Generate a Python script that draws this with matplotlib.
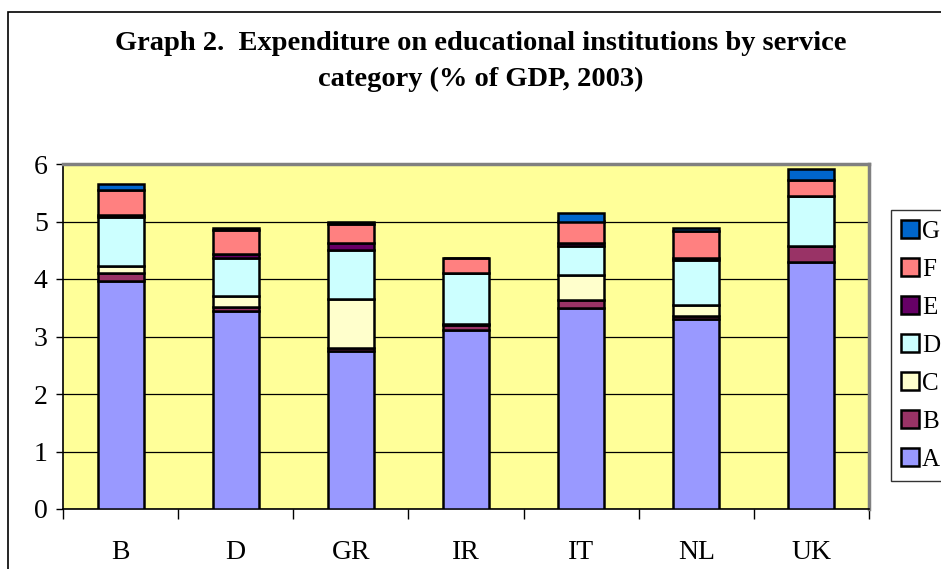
import numpy as np
import matplotlib
matplotlib.use("Agg")
from matplotlib import pyplot as plt
from matplotlib.patches import Rectangle, Patch

countries = ["B", "D", "GR", "IR", "IT", "NL", "UK"]
series = ["A", "B", "C", "D", "E", "F", "G"]

# values, % of GDP
A = [3.96, 3.44, 2.75, 3.12, 3.50, 3.30, 4.30]
B = [0.15, 0.08, 0.05, 0.08, 0.13, 0.05, 0.27]
C = [0.11, 0.19, 0.86, 0.01, 0.44, 0.19, 0.00]
D = [0.86, 0.66, 0.85, 0.89, 0.50, 0.79, 0.88]
E = [0.04, 0.07, 0.12, 0.00, 0.05, 0.03, 0.00]
F = [0.43, 0.42, 0.33, 0.26, 0.38, 0.48, 0.27]
G = [0.11, 0.03, 0.04, 0.00, 0.15, 0.04, 0.20]

colors = ["#9999FF", "#993366", "#FFFFCC", "#CCFFFF", "#660066", "#FF8080", "#0066CC"]

plt.rcParams['font.family'] = ['Liberation Serif', 'DejaVu Serif']

fig = plt.figure(figsize=(9.41, 5.69), dpi=100)
ax = fig.add_axes([63/941, 1-509/569, (869-63)/941, (509-164)/569])
ax.set_facecolor("#FFFF99")

x = np.arange(len(countries))
bottom = np.zeros(len(countries))
for name, vals, c in zip(series, [A, B, C, D, E, F, G], colors):
    ax.bar(x, vals, bottom=bottom, width=0.4, color=c, edgecolor="black",
           linewidth=1.8, zorder=3, label=name)
    bottom += np.array(vals)

ax.set_ylim(0, 6)
ax.set_xlim(-0.5, len(countries) - 0.5)
ax.set_yticks(range(7))
ax.yaxis.grid(True, color="black", linewidth=0.9, zorder=1)
ax.tick_params(axis="y", labelsize=20, length=5, width=1, pad=6)
ax.set_xticks(x)
ax.set_xticklabels(countries)
ax.tick_params(axis="x", which="major", length=0, labelsize=20, pad=22)
ax.set_xticks(np.arange(-0.5, len(countries)), minor=True)
ax.tick_params(axis="x", which="minor", length=7, width=1)

for s in ["left", "bottom"]:
    ax.spines[s].set_color("black")
    ax.spines[s].set_linewidth(1.2)
for s in ["top", "right"]:
    ax.spines[s].set_color("#808080")
    ax.spines[s].set_linewidth(2.5)

fig.text(0.511, 1-44/569, "Graph 2.  Expenditure on educational institutions by service",
         ha="center", va="center", fontsize=20.5, fontweight="bold")
fig.text(0.511, 1-79/569, "category (% of GDP, 2003)",
         ha="center", va="center", fontsize=20.5, fontweight="bold")

# outer frame of the chart
fig.patches.append(Rectangle((8/941, -0.1), 1.2, 1-12/569+0.1, transform=fig.transFigure,
                             fill=False, edgecolor="black", linewidth=1.2))

handles = [Patch(facecolor=c, edgecolor="black", linewidth=1.8) for c in colors]
leg = fig.legend(handles[::-1], series[::-1], loc="upper left",
                 bbox_to_anchor=(891/941, 1-210/569), fontsize=18,
                 frameon=True, fancybox=False, edgecolor="black",
                 handlelength=0.7, handleheight=0.7, handletextpad=0.15,
                 labelspacing=0.62, borderpad=0.4, borderaxespad=0)
leg.get_frame().set_linewidth(1.0)

plt.savefig("out.png", dpi=100)
